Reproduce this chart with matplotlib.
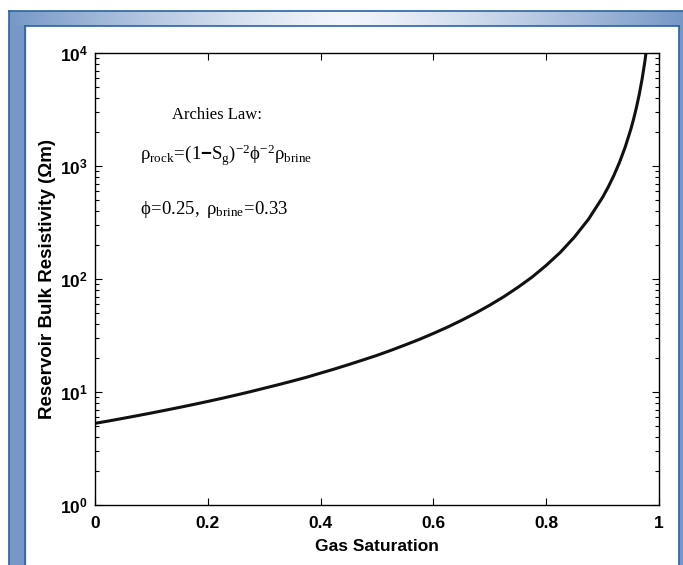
import matplotlib
matplotlib.use("Agg")
import matplotlib.pyplot as plt
import numpy as np
from matplotlib.ticker import FuncFormatter, FixedLocator

# values (gas saturation vs bulk resistivity)
gas_sat = [0.0, 0.025, 0.05, 0.075, 0.1, 0.125, 0.15, 0.175, 0.2, 0.225,
           0.25, 0.275, 0.3, 0.325, 0.35, 0.375, 0.4, 0.425, 0.45, 0.475,
           0.5, 0.525, 0.55, 0.575, 0.6, 0.625, 0.65, 0.675, 0.7, 0.725,
           0.75, 0.775, 0.8, 0.825, 0.85, 0.875, 0.9, 0.91, 0.92, 0.93,
           0.94, 0.95, 0.955, 0.96, 0.965, 0.97, 0.975, 0.98]
resistivity = [5.28, 5.55, 5.85, 6.17, 6.52, 6.90, 7.31, 7.76, 8.25, 8.79,
               9.39, 10.05, 10.8, 11.6, 12.5, 13.5, 14.7, 16.0, 17.5, 19.2,
               21.1, 23.4, 26.1, 29.2, 33.0, 37.5, 43.1, 50.0, 58.7, 69.8,
               84.5, 104, 132, 172, 235, 338, 528, 652, 825, 1078,
               1467, 2112, 2607, 3300, 4310, 5867, 8448, 13200]
x_ticks = [0, 0.2, 0.4, 0.6, 0.8, 1]
x_tick_labels = ["0", "0.2", "0.4", "0.6", "0.8", "1"]
y_exponents = [0, 1, 2, 3, 4]

plt.rcParams['mathtext.fontset'] = 'custom'
plt.rcParams['mathtext.rm'] = 'Liberation Serif'
plt.rcParams['mathtext.it'] = 'Liberation Serif:italic'
plt.rcParams['mathtext.bf'] = 'Liberation Sans:bold'

W, H = 683, 565
fig = plt.figure(figsize=(W / 100, H / 100), dpi=100)

# blue page frame around the figure
bg = fig.add_axes([0, 0, 1, 1], zorder=-1)
bg.set_xlim(0, W)
bg.set_ylim(H, 0)
bg.axis('off')
edge = np.array([0x76, 0x98, 0xc7]) / 255
light = np.array([0xf2, 0xf5, 0xfb]) / 255
pos = np.linspace(0, 1, 400)
wgt = np.clip(np.abs(pos - 0.5) * 2, 0, 1) ** 1.3
grad = light[None, :] * (1 - wgt[:, None]) + edge[None, :] * wgt[:, None]
bg.imshow(grad[None, :, :], extent=[9, W, 26, 11], aspect='auto', zorder=1)
bg.add_patch(plt.Rectangle((9, 26), 16, H - 26, color=edge, zorder=1))
bg.add_patch(plt.Rectangle((679, 26), 4, H - 26, color=edge, zorder=1))
dark = '#2a63a3'
bg.plot([9, 9], [11, H], color=dark, lw=1.2, zorder=2)
bg.plot([9, W], [11, 11], color=dark, lw=1.2, zorder=2)
bg.plot([25, 25], [26, H], color=dark, lw=1.2, zorder=2)
bg.plot([25, 679], [26, 26], color=dark, lw=1.2, zorder=2)
bg.plot([679, 679], [26, H], color=dark, lw=1.2, zorder=2)

ax = fig.add_axes([95 / W, 1 - 505 / H, 564 / W, 452 / H])
ax.plot(gas_sat, resistivity, color='#111111', lw=2.2)
ax.set_yscale('log')
ax.set_xlim(0, 1)
ax.set_ylim(1, 1e4)

ax.set_xticks(x_ticks)
ax.set_xticklabels(x_tick_labels, fontfamily='Liberation Sans', fontweight='bold', fontsize=12.5)
ax.yaxis.set_major_locator(FixedLocator([10.0 ** e for e in y_exponents]))
ax.yaxis.set_major_formatter(FuncFormatter(lambda v, p: r'$\mathbf{10^{%d}}$' % round(np.log10(v))))
ax.tick_params(which='both', direction='in', top=True, right=True, width=0.8)
ax.tick_params(axis='x', which='major', length=5, pad=8)
ax.tick_params(axis='y', which='major', length=5, pad=5, labelsize=12.5)
ax.tick_params(which='minor', length=3)
for sp in ax.spines.values():
    sp.set_linewidth(1.0)

ax.set_xlabel('Gas Saturation', fontfamily='Liberation Sans', fontweight='bold', fontsize=12.5, labelpad=6)
ax.set_ylabel('Reservoir Bulk Resistivity (Ωm)', fontfamily='Liberation Sans',
              fontweight='bold', fontsize=13.5, labelpad=3)

ax.text(0.216, 0.863, 'Archies Law:', transform=ax.transAxes, ha='center', va='center',
        fontfamily='Liberation Serif', fontsize=12)
ax.text(0.08, 0.774, r'$\mathrm{ρ_{rock}\!=\!(1\mathbf{-}S_g)^{-2}ϕ^{-2}ρ_{brine}}$',
        transform=ax.transAxes, ha='left', va='center', fontsize=13.5)
ax.text(0.08, 0.653, r'$\mathrm{ϕ\!=\!0.25,\ ρ_{brine}\!=\!0.33}$',
        transform=ax.transAxes, ha='left', va='center', fontsize=13.5)

fig.savefig('out.png', dpi=100)
